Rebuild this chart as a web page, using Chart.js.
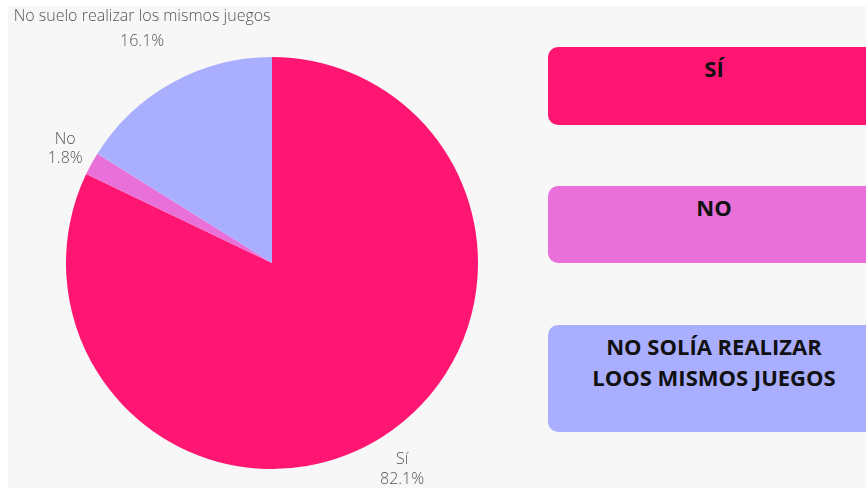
<!DOCTYPE html>
<html>
<head>
<meta charset="utf-8">
<script src="https://cdn.jsdelivr.net/npm/chart.js@4/dist/chart.umd.min.js"></script>
<style>
  html, body { margin: 0; padding: 0; background: #fff; }
  body { width: 866px; height: 488px; position: relative; overflow: hidden; font-family: "Open Sans", sans-serif; }
  #panel { position: absolute; left: 8px; top: 6px; width: 858px; height: 482px; background: #f7f7f7; }
  #chartBox { position: absolute; left: 8px; top: 6px; width: 528px; height: 482px; }
  .tag { position: absolute; left: 548px; width: 332px; border-radius: 10px; color: #111;
         font-weight: 700; font-size: 22px; text-align: center; line-height: 31px; box-sizing: border-box; padding-top: 6px; }
</style>
</head>
<body>
<div id="panel"></div>
<div id="chartBox"><canvas id="pieChart"></canvas></div>
<div id="tags"></div>
<script>
const labels = ['Sí', 'No', 'No suelo realizar los mismos juegos'];
const values = [82.1, 1.8, 16.1];
const colors = ['#ff1572', '#e870d8', '#aaaeff'];
const tagTexts = ['SÍ', 'NO', 'NO SOLÍA REALIZAR<br>LOOS MISMOS JUEGOS'];

// side boxes
const tagBoxes = [{ top: 47, h: 78 }, { top: 186, h: 77 }, { top: 325, h: 107 }];
const tagsEl = document.getElementById('tags');
tagBoxes.forEach((b, i) => {
    const d = document.createElement('div');
    d.className = 'tag';
    d.style.top = b.top + 'px';
    d.style.height = b.h + 'px';
    d.style.background = colors[i];
    d.innerHTML = tagTexts[i];
    tagsEl.appendChild(d);
});

// outside labels: name + percent, placed along each slice's mid angle
const labelDist = [38, 30, 62];
const lineGap = [20, 19, 25];
const outsideLabels = {
    id: 'outsideLabels',
    afterDatasetsDraw(chart) {
        const ctx = chart.ctx;
        const meta = chart.getDatasetMeta(0);
        ctx.save();
        ctx.font = '300 16px "Open Sans"';
        ctx.fillStyle = '#555';
        ctx.textBaseline = 'middle';
        meta.data.forEach((arc, i) => {
            const mid = (arc.startAngle + arc.endAngle) / 2;
            const r = arc.outerRadius + labelDist[i];
            const x = arc.x + Math.cos(mid) * r;
            const y = arc.y + Math.sin(mid) * r;
            ctx.textAlign = 'center';
            ctx.fillText(labels[i], x, y - lineGap[i] / 2);
            ctx.fillText(values[i].toFixed(1) + '%', x, y + lineGap[i] / 2);
        });
        ctx.restore();
    }
};

new Chart(document.getElementById('pieChart'), {
    type: 'pie',
    data: {
        labels: labels,
        datasets: [{
            data: values,
            backgroundColor: colors,
            borderWidth: 0
        }]
    },
    options: {
        responsive: true,
        maintainAspectRatio: false,
        animation: false,
        layout: { padding: { left: 58, right: 58, top: 51, bottom: 19 } },
        plugins: {
            legend: { display: false },
            tooltip: { enabled: false }
        }
    },
    plugins: [outsideLabels]
});
</script>
</body>
</html>
